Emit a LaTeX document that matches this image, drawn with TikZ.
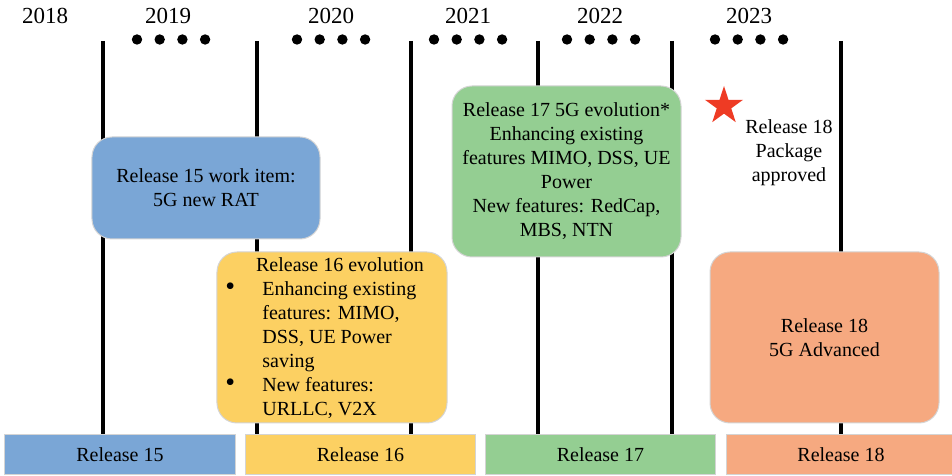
\documentclass[tikz,border=0pt]{standalone}
\usepackage{fontspec}
\setmainfont{Liberation Serif}
\usetikzlibrary{shapes.geometric}

\definecolor{relA}{HTML}{7AA6D6}
\definecolor{relB}{HTML}{FCD062}
\definecolor{relC}{HTML}{94CE92}
\definecolor{relD}{HTML}{F6A980}
\definecolor{starred}{HTML}{EE3B24}
\definecolor{edge}{HTML}{D4D4D4}

\newcommand{\bigbullet}{{\fontsize{14bp}{12bp}\selectfont\textbullet}}

\begin{document}
\begin{tikzpicture}[x=0.5bp,y=-0.5bp,
  yearlbl/.style={font=\fontsize{11.5bp}{14bp}\selectfont, inner sep=0},
  txt/.style={font=\fontsize{10bp}{12bp}\selectfont, align=center, inner sep=0},
  tick/.style={line width=2bp},
  relbox/.style={txt, rounded corners=10bp, draw=edge, line width=0.5bp,
                 minimum width=114.5bp, minimum height=85.5bp},
  relbar/.style={txt, draw=edge, line width=0.5bp,
                 minimum width=115bp, minimum height=20bp}]
\useasboundingbox (0,0) rectangle (952,476);

% year labels
\node[yearlbl] (y18) at (45,16)  {2018};
\node[yearlbl] (y19) at (168,16) {2019};
\node[yearlbl] (y20) at (331,16) {2020};
\node[yearlbl] (y21) at (468,16) {2021};
\node[yearlbl] (y22) at (600,16) {2022};
\node[yearlbl] (y23) at (749,16) {2023};

% quarter dots
\foreach \s in {137,297,434,567,715}
  \foreach \k in {0,1,2,3}
    \fill ({\s+22.7*\k},39.5) circle[radius=2.6bp];

% year boundaries
\foreach \x in {103,257,411,538,672,841}
  \draw[tick] (\x,41) -- (\x,435);

% work item boxes
\node[relbox, fill=relA, minimum width=114bp, minimum height=51bp]
  (r15) at (206,188) {Release 15 work item:\\5G new RAT};
\node[relbox, fill=relB, minimum width=115bp] (r16) at (332,337.5) {};
\node[txt, anchor=base] (r16h) at (340,271.6) {Release 16 evolution};
\node[txt, anchor=north west] (r16l) at (225,278.8) {%
  \begin{tabular}{@{}p{18.5bp}@{}l@{}}
  \bigbullet & Enhancing existing\\
   & features: MIMO,\\
   & DSS, UE Power\\
   & saving\\
  \bigbullet & New features:\\
   & URLLC, V2X
  \end{tabular}};
\node[relbox, fill=relC] (r17) at (566.5,171.5)
  {Release 17 5G evolution*\\Enhancing existing\\features MIMO, DSS, UE\\Power\\New features: RedCap,\\MBS, NTN};
\node[relbox, fill=relD] (r18) at (824.5,337.5) {Release 18\\5G Advanced};

% Release 18 milestone
\node[star, star points=5, star point ratio=2.618, fill=starred,
      minimum size=20bp, inner sep=0] (ms) at (724,106) {};
\node[txt] (msl) at (789,152.5) {Release 18\\Package\\approved};

% release bars
\node[relbar, fill=relA] (b15) at (120,455)   {Release 15};
\node[relbar, fill=relB] (b16) at (360.5,455) {Release 16};
\node[relbar, fill=relC] (b17) at (600.5,455) {Release 17};
\node[relbar, fill=relD] (b18) at (841,455)   {Release 18};
\end{tikzpicture}
\end{document}
